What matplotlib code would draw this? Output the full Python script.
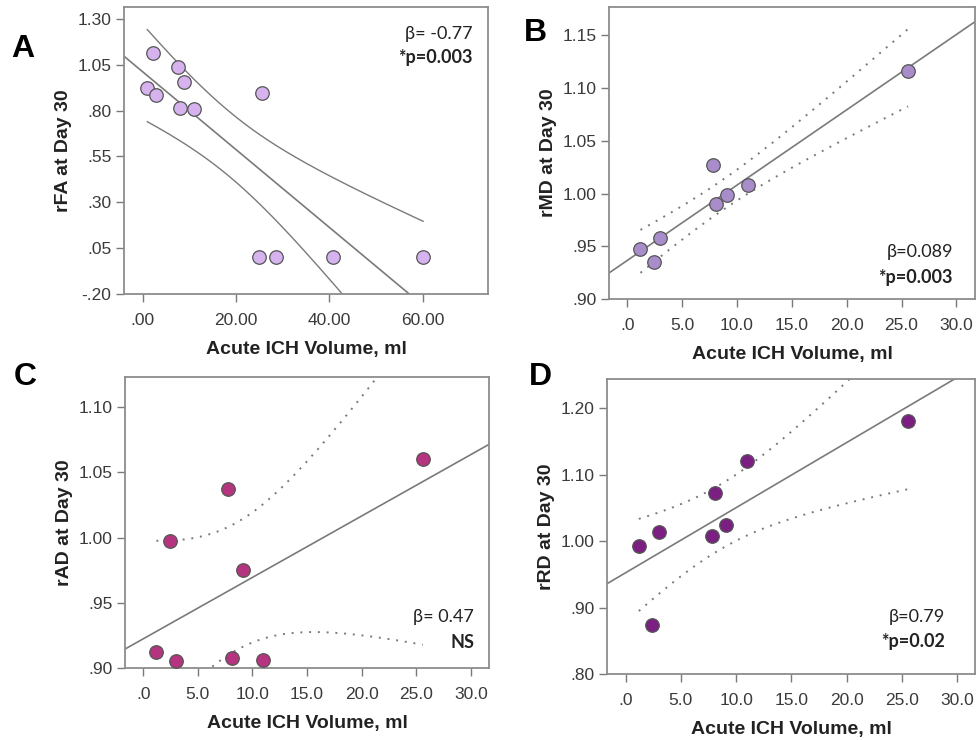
import numpy as np
import matplotlib
matplotlib.use("Agg")
import matplotlib.pyplot as plt
from matplotlib.ticker import FuncFormatter

plt.rcParams['font.family'] = ['Liberation Sans', 'DejaVu Sans']

# --- data ---
vol_a = [2.3, 7.6, 8.9, 1.0, 2.9, 8.0, 11.0, 25.6, 25.0, 28.6, 40.8, 60.1]
rfa = [1.113, 1.040, 0.956, 0.922, 0.885, 0.813, 0.811, 0.896, 0.0, 0.0, 0.0, 0.0]

vol = [1.2, 2.4, 3.0, 7.8, 8.1, 9.1, 11.0, 25.6]
rmd = [0.947, 0.935, 0.958, 1.027, 0.990, 0.999, 1.008, 1.116]
rad_x = [1.2, 2.4, 3.0, 7.8, 8.1, 9.1, 11.0, 25.6]
rad = [0.912, 0.997, 0.905, 1.037, 0.908, 0.975, 0.906, 1.060]
rrd_x = [1.2, 2.4, 3.0, 7.8, 8.1, 9.1, 11.0, 25.6]
rrd = [0.993, 0.873, 1.014, 1.008, 1.073, 1.024, 1.121, 1.181]

ticks_x_a = [0, 20, 40, 60]
ticks_y_a = [-0.20, 0.05, 0.30, 0.55, 0.80, 1.05, 1.30]
ticks_x = [0, 5, 10, 15, 20, 25, 30]
ticks_y_b = [0.90, 0.95, 1.00, 1.05, 1.10, 1.15]
ticks_y_c = [0.90, 0.95, 1.00, 1.05, 1.10]
ticks_y_d = [0.80, 0.90, 1.00, 1.10, 1.20]

# two-sided 95% t quantiles by degrees of freedom
T975 = {6: 2.447, 10: 2.228}

GRAY = '#7a7a7a'
TXT = '#3a3a3a'


def spss_fmt(nd):
    def f(v, pos):
        s = f"{v:.{nd}f}"
        if s.startswith('0.'):
            s = s[1:]
        elif s.startswith('-0.'):
            s = '-' + s[2:]
        return s
    return FuncFormatter(f)


def panel(rect, x, y, color, xlim, ylim, xt, yt, xnd, ynd, ylabel,
          ci_style, letter, letter_xy, beta, pval, txt_x, txt_y):
    ax = fig.add_axes(rect)
    x = np.asarray(x, float)
    y = np.asarray(y, float)
    n = len(x)
    slope, icpt = np.polyfit(x, y, 1)
    resid = y - (icpt + slope * x)
    s = np.sqrt(np.sum(resid ** 2) / (n - 2))
    sxx = np.sum((x - x.mean()) ** 2)

    # fit line across the full axis
    xl = np.linspace(xlim[0], xlim[1], 50)
    ax.plot(xl, icpt + slope * xl, color=GRAY, lw=1.2, zorder=2)

    # 95% CI of the mean, from min to max of x
    xc = np.linspace(x.min(), x.max(), 200)
    half = T975[n - 2] * s * np.sqrt(1.0 / n + (xc - x.mean()) ** 2 / sxx)
    fit_c = icpt + slope * xc
    if ci_style == 'solid':
        kw = dict(color=GRAY, lw=1.0)
    else:
        kw = dict(color=GRAY, lw=1.4, ls=(0, (1, 3.5)))
    ax.plot(xc, fit_c + half, zorder=2, **kw)
    ax.plot(xc, fit_c - half, zorder=2, **kw)

    ax.scatter(x, y, s=95, color=color, edgecolor='#555555', lw=0.9, zorder=3)

    ax.set_xlim(*xlim)
    ax.set_ylim(*ylim)
    ax.set_xticks(xt)
    ax.set_yticks(yt)
    ax.xaxis.set_major_formatter(spss_fmt(xnd))
    ax.yaxis.set_major_formatter(spss_fmt(ynd))
    ax.tick_params(direction='out', length=6, width=1.0, color=GRAY,
                   labelsize=12.5, labelcolor=TXT, pad=3)
    ax.tick_params(axis='x', pad=8)
    for sp in ax.spines.values():
        sp.set_color('#8c8c8c')
        sp.set_linewidth(1.3)
    ax.set_xlabel('Acute ICH Volume, ml', fontsize=14, fontweight='bold',
                  color='#222222', labelpad=9)
    ax.set_ylabel(ylabel, fontsize=14, fontweight='bold', color='#222222',
                  labelpad=4)

    fig.text(letter_xy[0], letter_xy[1], letter, fontsize=23, fontweight='bold',
             family=['Liberation Sans', 'DejaVu Sans'], ha='center', va='center')
    fig.text(txt_x, txt_y[0], beta, fontsize=13, ha='right', va='center',
             family=['Lato', 'DejaVu Sans'], color='#222222')
    fig.text(txt_x, txt_y[1], pval, fontsize=13, ha='right', va='center',
             fontweight='bold', family=['Lato', 'DejaVu Sans'], color='#222222')
    return ax


W, H = 977, 740
fig = plt.figure(figsize=(W / 100, H / 100), dpi=100)


def r(l, t, rr, b):
    return [l / W, 1 - b / H, (rr - l) / W, (b - t) / H]


panel(r(124, 7, 488, 294), vol_a, rfa, '#d6b3ef', (-4.0, 74.0), (-0.20, 1.365),
      ticks_x_a, ticks_y_a, 2, 2, 'rFA at Day 30', 'solid', 'A', (23 / W, 1 - 49 / H),
      'β= -0.77', '*p=0.003', 473 / W, (1 - 34 / H, 1 - 58 / H))

panel(r(609, 7, 975, 299), vol, rmd, '#a98dcb', (-1.67, 31.7), (0.90, 1.177),
      ticks_x, ticks_y_b, 1, 2, 'rMD at Day 30', 'dotted', 'B', (535 / W, 1 - 33 / H),
      'β=0.089', '*p=0.003', 953 / W, (1 - 252 / H, 1 - 277 / H))

panel(r(125, 377, 489, 668), rad_x, rad, '#b5347f', (-1.68, 31.67), (0.90, 1.123),
      ticks_x, ticks_y_c, 1, 2, 'rAD at Day 30', 'dotted', 'C', (25 / W, 1 - 377 / H),
      'β= 0.47', 'NS', 474 / W, (1 - 617 / H, 1 - 642 / H))

panel(r(607, 379, 975, 674), rrd_x, rrd, '#7b1f82', (-1.68, 31.62), (0.80, 1.244),
      ticks_x, ticks_y_d, 1, 2, 'rRD at Day 30', 'dotted', 'D', (540 / W, 1 - 377 / H),
      'β=0.79', '*p=0.02', 945 / W, (1 - 617 / H, 1 - 642 / H))

fig.savefig('out.png', dpi=100)
